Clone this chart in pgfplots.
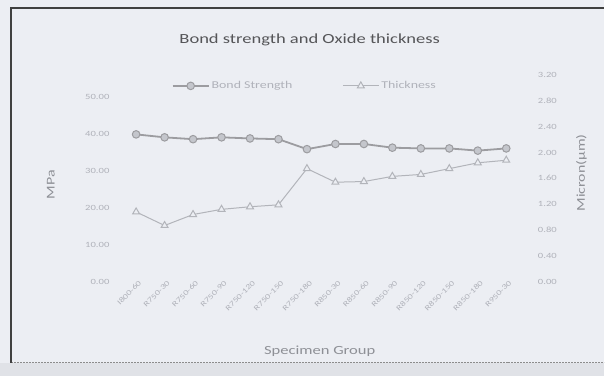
\documentclass[border=0pt]{standalone}
\usepackage{pgfplots}
\pgfplotsset{compat=1.18}
\usepackage{fontspec}
\setmainfont{Carlito}[FakeStretch=1.33]
\definecolor{bgcol}{HTML}{ECEEF3}
\definecolor{ticktxt}{HTML}{B0B2BA}
\definecolor{titletxt}{HTML}{555558}
\definecolor{labtxt}{HTML}{8E9096}
\definecolor{bsline}{HTML}{9C9CA0}
\definecolor{bsfill}{HTML}{C4C6CC}
\definecolor{thline}{HTML}{B2B4BA}
\begin{document}
\begin{tikzpicture}
\fill[bgcol] (0,0) rectangle (605bp,376bp);
\fill[color=bgcol!95!black] (0,0) rectangle (605bp,13bp);
\draw[line width=0.8bp, color=black!45, dash pattern=on 2bp off 1bp] (11bp,13.5bp) -- (605bp,13.5bp);
\draw[line width=1.2bp, color=black!75] (11bp,13bp) -- (11bp,368bp) -- (605bp,368bp);
\path[use as bounding box] (0,0) rectangle (605bp,376bp);
\node[font=\fontsize{14}{16}\selectfont, text=titletxt] at (310bp,336bp) {Bond strength and Oxide thickness};
\node[font=\fontsize{12.5}{14}\selectfont, text=labtxt] at (320bp,24bp) {Specimen Group};
\node[font=\fontsize{12}{14}\selectfont, text=labtxt, rotate=90] at (51bp,191bp) {MPa};
\node[font=\fontsize{12}{14}\selectfont, text=labtxt, rotate=90] at (582bp,203bp) {Micron(µm)};
\begin{axis}[
  at={(122bp,94bp)}, anchor=south west,
  scale only axis, width=399bp, height=207bp,
  xmin=-0.5, xmax=13.5, ymin=0, ymax=56,
  axis line style={draw=none}, major tick length=0pt,
  xtick={0,...,13},
  xticklabels={I800-60,R750-30,R750-60,R750-90,R750-120,R750-150,R750-180,R850-30,R850-60,R850-90,R850-120,R850-150,R850-180,R950-30},
  xticklabel style={rotate=45, anchor=east, font=\fontsize{7.5}{9}\selectfont, text=ticktxt, xshift=6bp, yshift=-3bp},
  ytick={0,10,20,30,40,50},
  yticklabel style={font=\fontsize{8}{10}\selectfont, text=ticktxt, xshift=-9bp,
    /pgf/number format/.cd, fixed, fixed zerofill, precision=2, assume math mode=true},
  legend style={at={(axis description cs:0.459,0.947)}, anchor=center, draw=none, fill=none,
    font=\fontsize{10.5}{12}\selectfont, text=ticktxt, legend columns=2,
    /tikz/every even column/.append style={column sep=48bp}},
  legend image code/.code={\draw[#1] (0bp,0bp) -- (36bp,0bp); \draw[#1, only marks] plot coordinates {(18bp,0bp)};},
]
\addplot[color=bsline, line width=1.8bp, mark=*, mark size=3.8bp, mark options={fill=bsfill, draw=bsline, line width=1bp}]
 coordinates {(0,39.9)(1,39.1)(2,38.6)(3,39.1)(4,38.8)(5,38.6)(6,35.9)(7,37.3)(8,37.3)(9,36.3)(10,36.1)(11,36.1)(12,35.5)(13,36.1)};
\addlegendentry{Bond Strength}
\addlegendimage{color=thline, line width=1bp, mark=triangle*, mark size=4bp, mark options={fill=bgcol, draw=thline}}
\addlegendentry{Thickness}
\end{axis}
\begin{axis}[
  at={(122bp,94bp)}, anchor=south west,
  scale only axis, width=399bp, height=207bp,
  xmin=-0.5, xmax=13.5, ymin=0, ymax=3.2,
  axis line style={draw=none}, major tick length=0pt,
  xtick=\empty, axis y line*=right,
  ytick={0,0.4,0.8,1.2,1.6,2.0,2.4,2.8,3.2},
  yticklabel style={font=\fontsize{8}{10}\selectfont, text=ticktxt, xshift=14bp,
    /pgf/number format/.cd, fixed, fixed zerofill, precision=2, assume math mode=true},
]
\addplot[color=thline, line width=1bp, mark=triangle*, mark size=4bp, mark options={fill=bgcol, draw=thline}]
 coordinates {(0,1.08)(1,0.87)(2,1.04)(3,1.12)(4,1.16)(5,1.19)(6,1.75)(7,1.54)(8,1.55)(9,1.63)(10,1.66)(11,1.75)(12,1.84)(13,1.88)};
\end{axis}
\end{tikzpicture}
\end{document}
